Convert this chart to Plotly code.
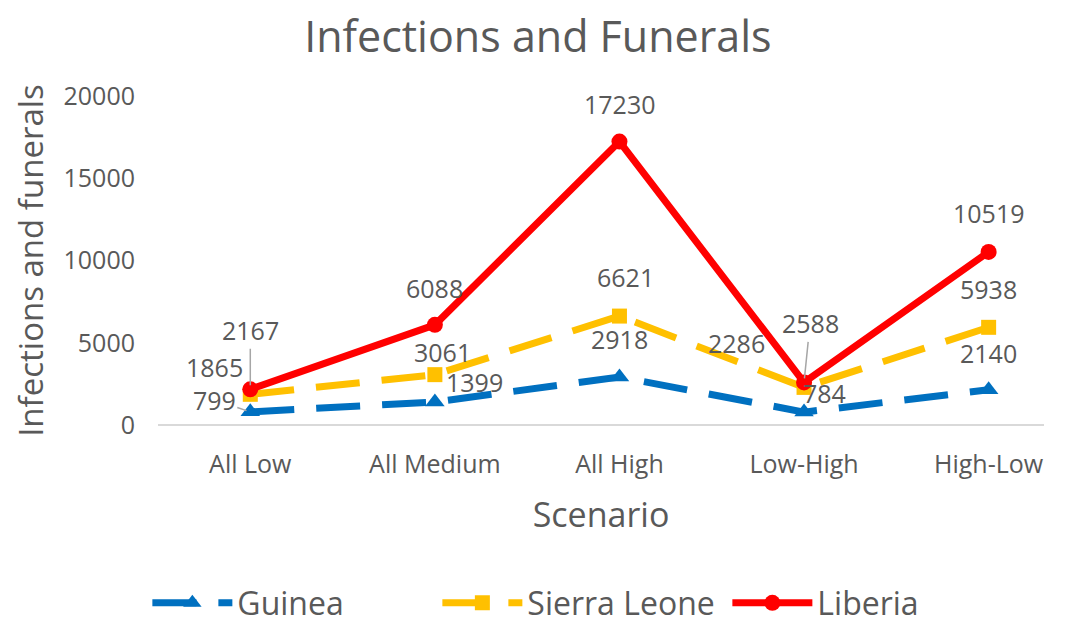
import plotly.graph_objects as go

categories = ["All Low", "All Medium", "All High", "Low-High", "High-Low"]
guinea = [799, 1399, 2918, 784, 2140]
sierra_leone = [1865, 3061, 6621, 2286, 5938]
liberia = [2167, 6088, 17230, 2588, 10519]
y_ticks = [0, 5000, 10000, 15000, 20000]

FONT = "Open Sans"
TXT = "#595959"
x_idx = list(range(len(categories)))

fig = go.Figure()
fig.add_trace(go.Scatter(x=x_idx, y=guinea, name="Guinea", mode="lines+markers",
                         line=dict(color="#0070C0", width=7, dash="44px,22px"),
                         marker=dict(symbol="triangle-up", size=17, color="#0070C0")))
fig.add_trace(go.Scatter(x=x_idx, y=sierra_leone, name="Sierra Leone", mode="lines+markers",
                         line=dict(color="#FFC000", width=7, dash="44px,22px"),
                         marker=dict(symbol="square", size=15, color="#FFC000")))
fig.add_trace(go.Scatter(x=x_idx, y=liberia, name="Liberia", mode="lines+markers",
                         line=dict(color="#FF0000", width=7),
                         marker=dict(symbol="circle", size=16, color="#FF0000")))

# label offsets in pixels (dx, dy upward-negative, leader line)
offsets = {
    "guinea": [(-36, -12, True), (40, -20, False), (0, -38, False), (20, -19, False), (0, -37, False)],
    "sierra": [(-36, -27, False), (8, -23, False), (6, -39, False), (-68, -44, False), (0, -38, False)],
    "liberia": [(0, -59, True), (0, -37, False), (0, -38, False), (6, -59, True), (0, -39, False)],
}
for key, series in (("guinea", guinea), ("sierra", sierra_leone), ("liberia", liberia)):
    for i, v in enumerate(series):
        ax, ay, lead = offsets[key][i]
        if lead:
            fig.add_annotation(x=i, y=v, text=str(v), showarrow=True, arrowhead=0,
                               arrowcolor="#A6A6A6", arrowwidth=1.5, ax=ax, ay=ay,
                               standoff=4, font=dict(family=FONT, size=25, color=TXT))
        else:
            fig.add_annotation(x=i, y=v, text=str(v), showarrow=False,
                               xshift=ax, yshift=-ay, font=dict(family=FONT, size=25, color=TXT))

fig.update_layout(
    width=1064, height=618,
    paper_bgcolor="white", plot_bgcolor="white",
    margin=dict(l=150, r=28, t=88, b=201, autoexpand=False),
    title=dict(text="Infections and Funerals", x=0.498, xanchor="center", y=0.953, yanchor="middle",
               font=dict(family=FONT, size=43, color=TXT)),
    font=dict(family=FONT, color=TXT),
    showlegend=True,
    legend=dict(orientation="h", x=-0.012, xanchor="left", y=-0.541, yanchor="middle",
                font=dict(family=FONT, size=32, color=TXT), itemwidth=80,
                entrywidth=195, entrywidthmode="pixels"),
    xaxis=dict(tickmode="array", tickvals=x_idx, ticktext=categories, range=[-0.5, 4.3],
               showgrid=False, zeroline=False, showline=False, ticks="",
               automargin=False, ticklabelstandoff=22,
               tickfont=dict(family=FONT, size=25, color=TXT),
               title=dict(text="Scenario", font=dict(family=FONT, size=34, color=TXT), standoff=24)),
    yaxis=dict(range=[0, 20000], tickvals=y_ticks, ticktext=[str(t) for t in y_ticks],
               showgrid=False, zeroline=True, zerolinecolor="#D9D9D9", zerolinewidth=1.5,
               showline=False, ticks="", automargin=False, ticklabelstandoff=22,
               tickfont=dict(family=FONT, size=25, color=TXT),
               title=dict(text="Infections and funerals", font=dict(family=FONT, size=33, color=TXT), standoff=12)),
)
fig.write_html("out.html")
